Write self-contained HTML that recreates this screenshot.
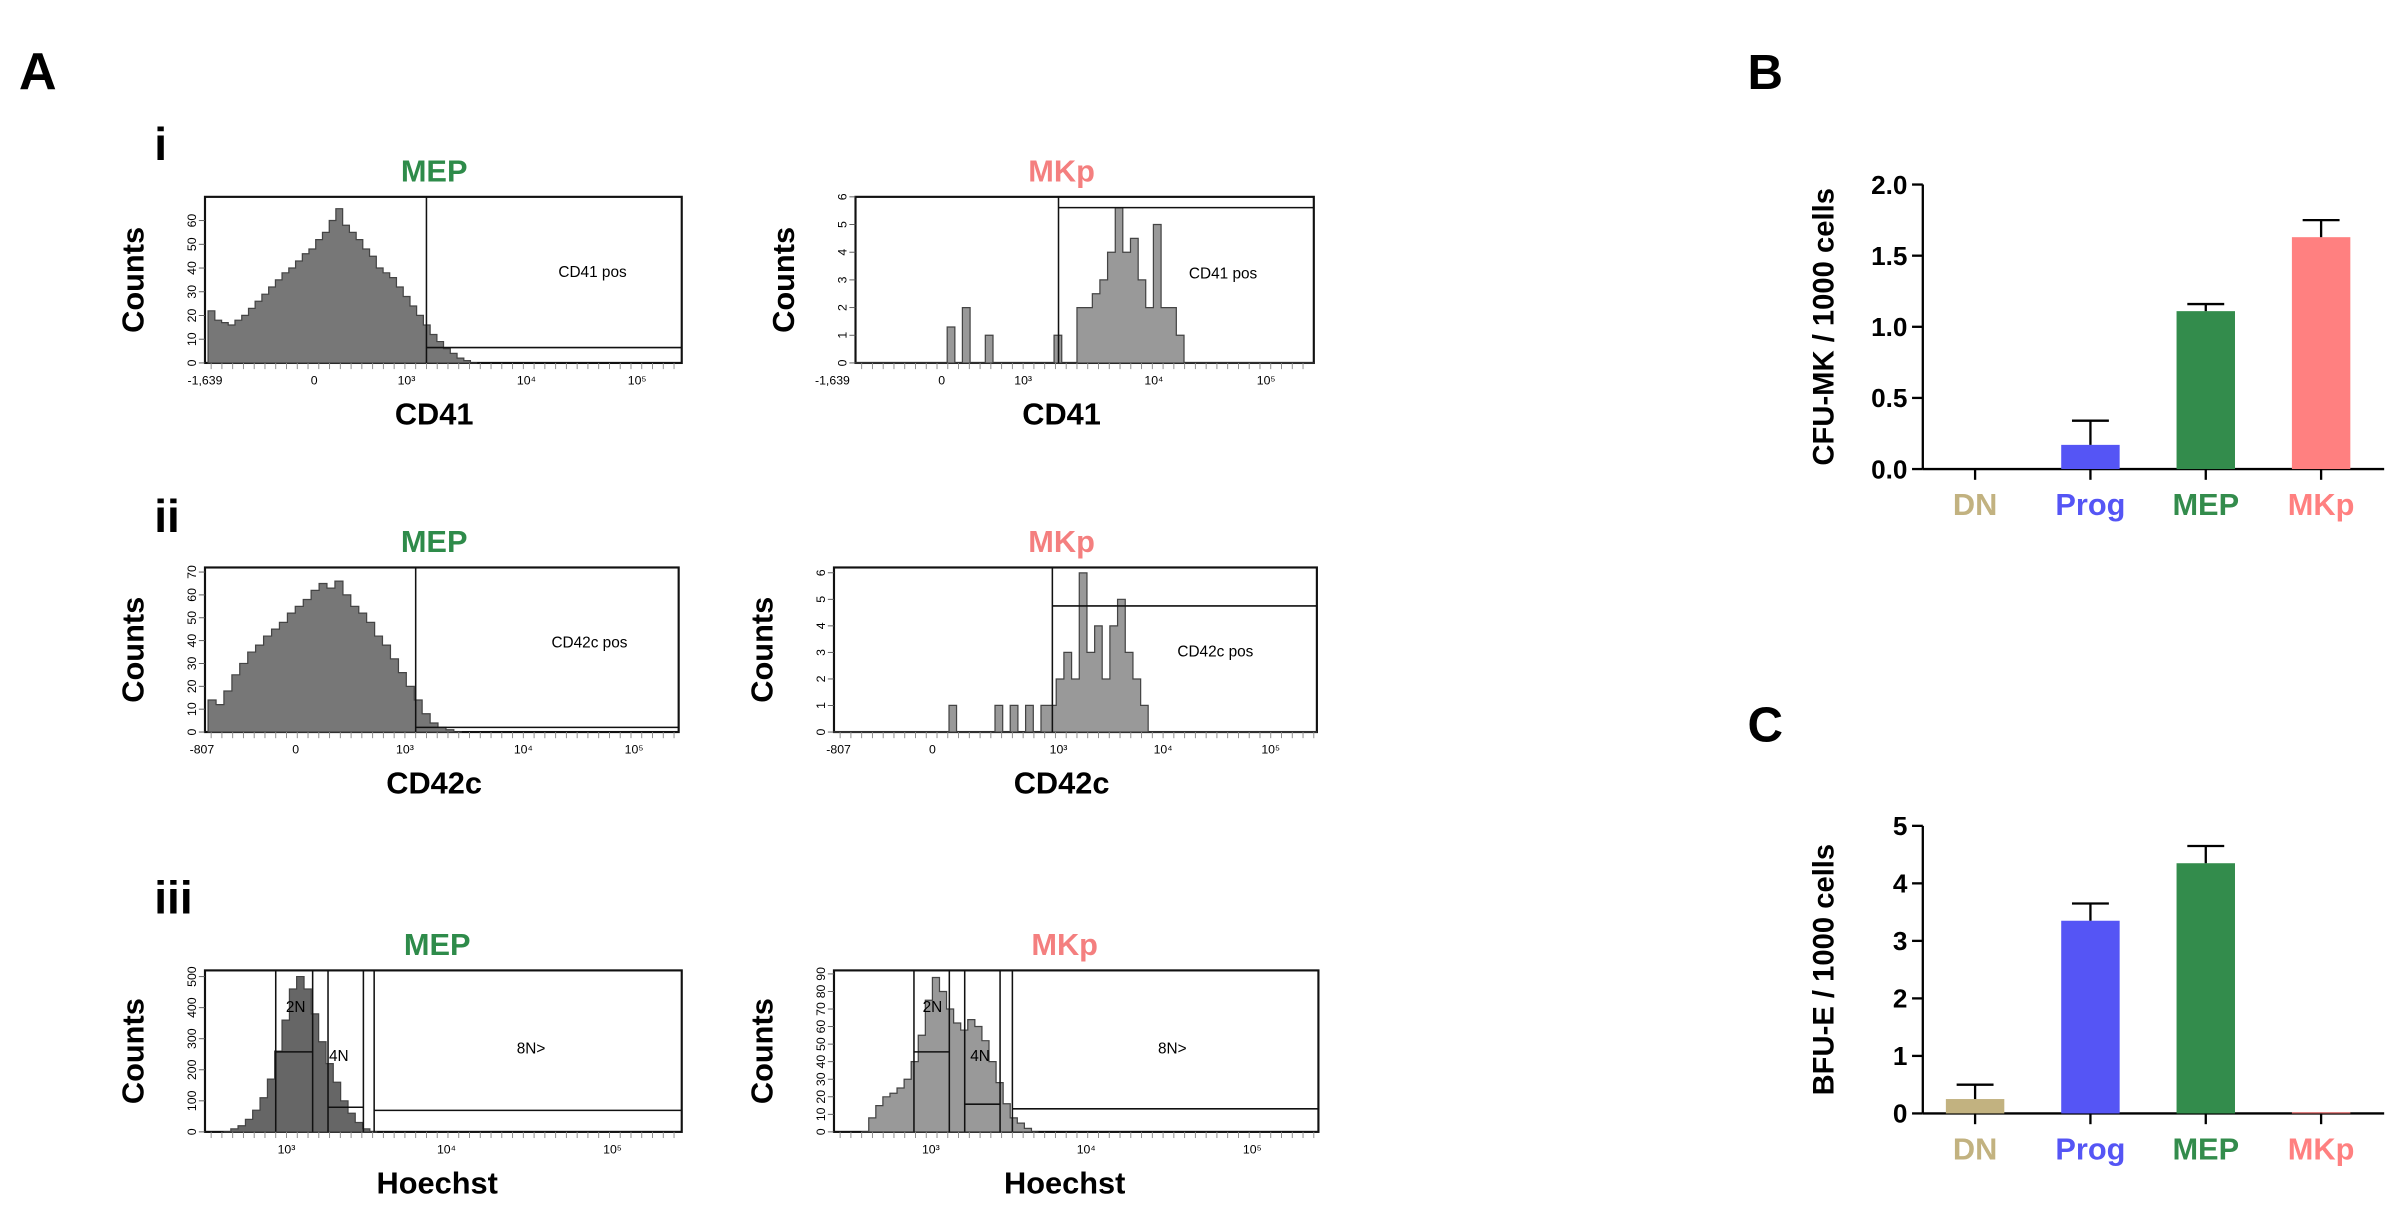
<!DOCTYPE html>
<html><head><meta charset="utf-8"><style>
html,body{margin:0;padding:0;background:#fff;}
svg{display:block;font-family:"Liberation Sans",sans-serif;}
.b{font-weight:bold;}
</style></head><body>
<svg id="fig" width="2400" height="1218" viewBox="0 0 1560 792" xmlns="http://www.w3.org/2000/svg">
<text x="12" y="58" font-size="34" class="b">A</text>
<text x="1136" y="58" font-size="32" class="b">B</text>
<text x="1136" y="482" font-size="32" class="b">C</text>
<text x="100" y="104" font-size="30" class="b">i</text>
<text x="100" y="346" font-size="30" class="b">ii</text>
<text x="100" y="594" font-size="30" class="b">iii</text>
<g id="flow"></g>
<g id="bars"></g>
</svg>
<script>
// ---- Flow histogram data (counts per bin) ----
const mepCD41 = [22,18,17,16,18,20,23,26,29,32,35,38,40,43,46,48,52,55,60,65,58,55,52,48,45,40,38,36,32,28,24,20,16,12,9,6,4,2,1,0];
const mkpCD41 = [0,0,0,0,0,0,0,0,0,0,0,0,1.3,0,2,0,0,1,0,0,0,0,0,0,0,0,1,0,0,2,2,2.5,3,4,5.6,4,4.5,3,2,5,2,2,1,0,0,0,0,0,0,0,0,0,0,0,0,0,0,0,0,0];
const mepCD42c = [14,12,18,25,30,35,38,42,45,48,52,55,58,62,65,63,66,60,55,52,48,42,38,32,26,20,14,8,4,2,1,0];
const mkpCD42c = [0,0,0,0,0,0,0,0,0,0,0,0,0,0,0,1,0,0,0,0,0,1,0,1,0,1,0,1,1,2,3,2,6,3,4,2,4,5,3,2,1,0,0,0,0,0,0,0,0,0,0,0,0,0,0,0,0,0,0,0,0,0,0];
const mepHoe = [0,10,20,40,70,110,170,260,360,460,500,460,380,290,220,160,100,60,30,10,0];
const mkpHoe = [0,8,15,20,22,25,30,40,55,75,88,80,70,62,58,64,60,52,40,28,16,8,5,2,0];
const gn = "#2e8b4a", pk = "#f47f7f";
const NS = "http://www.w3.org/2000/svg";
const flow = document.getElementById('flow');
function mk(tag, attrs, parent, text){
  const e = document.createElementNS(NS, tag);
  for (const k in attrs) e.setAttribute(k, attrs[k]);
  if (text !== undefined) e.textContent = text;
  (parent || flow).appendChild(e);
  return e;
}
function histo(p){
  const g = mk('g', {});
  
  
  mk('rect', {x:p.x0, y:p.y0, width:p.x1-p.x0, height:p.y1-p.y0, fill:'#fff', stroke:'#111', 'stroke-width':1.4}, g);
  const n = p.data.length, bw = (p.hx1 - p.hx0)/n;
  const yv = v => p.y1 - v/p.ymax*(p.y1-p.y0);
  let d = 'M'+p.hx0+','+p.y1;
  p.data.forEach((v,i)=>{ const x=p.hx0+i*bw; d+=' L'+x.toFixed(1)+','+yv(v).toFixed(1)+' L'+(x+bw).toFixed(1)+','+yv(v).toFixed(1); });
  d += ' L'+p.hx1+','+p.y1+' Z';
  const h = mk('path', {d:d, fill:p.fill, stroke:'#444', 'stroke-width':0.8}, g);
  
  
  (p.lines||[]).forEach(l=>mk('line', {x1:l[0], y1:l[1], x2:l[2], y2:l[3], stroke:'#111', 'stroke-width':1}, g));
  (p.labels||[]).forEach(l=>mk('text', {x:l[0], y:l[1], 'font-size':10, 'text-anchor':'middle'}, g, l[2]));
  for (let x=p.x0+4; x<p.x1; x+=7) mk('line', {x1:x, y1:p.y1, x2:x, y2:p.y1+4, stroke:'#888', 'stroke-width':0.6}, g);
  (p.xt||[]).forEach(t=>mk('text', {x:t[0], y:p.y1+14, 'font-size':8, 'text-anchor':'middle'}, g, t[1]));
  (p.yt||[]).forEach(v=>{ const y=yv(v);
    mk('line', {x1:p.x0-4, y1:y, x2:p.x0, y2:y, stroke:'#555', 'stroke-width':0.6}, g);
    mk('text', {x:0, y:0, 'font-size':8, 'text-anchor':'middle', transform:'translate('+(p.x0-6)+','+y+') rotate(-90)'}, g, v);
  });
  const t = mk('text', {x:p.tx, y:p.y0-10, 'font-size':20, 'text-anchor':'middle', fill:p.tc, 'font-weight':'bold'}, g, p.title);
  
  
  const xl = mk('text', {x:p.tx, y:p.y1+40, 'font-size':20, 'text-anchor':'middle', 'font-weight':'bold'}, g, p.xl);
  
  
  const yl = mk('text', {x:0, y:0, 'font-size':20, 'text-anchor':'middle', 'font-weight':'bold', transform:'translate('+(p.x0-40)+','+((p.y0+p.y1)/2)+') rotate(-90)'}, g, 'Counts');
  
  
}
histo({name:'mep-cd41', x0:133,x1:443,y0:128,y1:236, tx:282, hx0:135,hx1:310, data:mepCD41, ymax:70, fill:'#777', tc:gn, title:'MEP', xl:'CD41',
  lines:[[277,128,277,236],[277,226,443,226]], labels:[[385,180,'CD41 pos']], yt:[0,10,20,30,40,50,60], xt:[[133,'-1,639'],[204,'0'],[264,'10³'],[342,'10⁴'],[414,'10⁵']]});
histo({name:'mkp-cd41', x0:556,x1:854,y0:128,y1:236, tx:690, hx0:556,hx1:854, data:mkpCD41, ymax:6, fill:'#999', tc:pk, title:'MKp', xl:'CD41',
  lines:[[688,128,688,236],[688,135,854,135]], labels:[[795,181,'CD41 pos']], yt:[0,1,2,3,4,5,6], xt:[[541,'-1,639'],[612,'0'],[665,'10³'],[750,'10⁴'],[823,'10⁵']]});
histo({name:'mep-cd42c', x0:133,x1:441,y0:369,y1:476, tx:282, hx0:135,hx1:300, data:mepCD42c, ymax:72, fill:'#777', tc:gn, title:'MEP', xl:'CD42c',
  lines:[[270,369,270,476],[270,473,441,473]], labels:[[383,421,'CD42c pos']], yt:[0,10,20,30,40,50,60,70], xt:[[131,'-807'],[192,'0'],[263,'10³'],[340,'10⁴'],[412,'10⁵']]});
histo({name:'mkp-cd42c', x0:542,x1:856,y0:369,y1:476, tx:690, hx0:542,hx1:856, data:mkpCD42c, ymax:6.2, fill:'#999', tc:pk, title:'MKp', xl:'CD42c',
  lines:[[684,369,684,476],[684,394,856,394]], labels:[[790,427,'CD42c pos']], yt:[0,1,2,3,4,5,6], xt:[[545,'-807'],[606,'0'],[688,'10³'],[756,'10⁴'],[826,'10⁵']]});
histo({name:'mep-hoechst', x0:133,x1:443,y0:631,y1:736, tx:284, hx0:145,hx1:245, data:mepHoe, ymax:520, fill:'#666', tc:gn, title:'MEP', xl:'Hoechst',
  lines:[[179,631,179,736],[203,631,203,736],[213,631,213,736],[236,631,236,736],[243,631,243,736],[179,684,203,684],[213,720,236,720],[243,722,443,722]],
  labels:[[192,658,'2N'],[220,690,'4N'],[345,685,'8N>']], yt:[0,100,200,300,400,500], xt:[[186,'10³'],[290,'10⁴'],[398,'10⁵']]});
histo({name:'mkp-hoechst', x0:542,x1:857,y0:631,y1:736, tx:692, hx0:560,hx1:675, data:mkpHoe, ymax:92, fill:'#999', tc:pk, title:'MKp', xl:'Hoechst',
  lines:[[594,631,594,736],[617,631,617,736],[627,631,627,736],[650,631,650,736],[658,631,658,736],[594,684,617,684],[627,718,650,718],[658,721,857,721]],
  labels:[[606,658,'2N'],[637,690,'4N'],[762,685,'8N>']], yt:[0,10,20,30,40,50,60,70,80,90], xt:[[605,'10³'],[706,'10⁴'],[814,'10⁵']]});

// ---- Bar chart data ----
const cats = ['DN','Prog','MEP','MKp'];
const catColors = ['#c2b280','#5555f5','#338c4c','#ff8080'];
const cfuVals = [0, 0.17, 1.11, 1.63];
const cfuErr = [0, 0.17, 0.05, 0.12];
const cfuTicks = ['0.0','0.5','1.0','1.5','2.0'];
const bfuVals = [0.25, 3.35, 4.35, 0.02];
const bfuErr = [0.25, 0.3, 0.3, 0];
const bfuTicks = ['0','1','2','3','4','5'];
const bars = document.getElementById('bars');
function barChart(o){
  const g = mk('g', {}, bars);
  
  
  const ax0 = 1250, ax1 = 1550;
  const ys = v => o.yb - v/o.vmax*(o.yb-o.yt);
  const xs = i => 1284 + i*75;
  mk('line', {x1:ax0, y1:o.yt, x2:ax0, y2:o.yb, stroke:'#000', 'stroke-width':1.5}, g);
  mk('line', {x1:ax0, y1:o.yb, x2:ax1, y2:o.yb, stroke:'#000', 'stroke-width':1.5}, g);
  o.ticks.forEach((t,i)=>{ const v = i*o.vmax/(o.ticks.length-1), y = ys(v);
    mk('line', {x1:ax0-7, y1:y, x2:ax0, y2:y, stroke:'#000', 'stroke-width':1.5}, g);
    const tl = mk('text', {x:ax0-10, y:y+6, 'font-size':17, 'text-anchor':'end', 'font-weight':'bold'}, g, t);
    
    
  });
  cats.forEach((c,i)=>{ const cx = xs(i), w = 38;
    const top = ys(o.vals[i]);
    const b = mk('rect', {x:cx-w/2, y:top, width:w, height:o.yb-top, fill:catColors[i]}, g);
    
    
    if (o.err[i] > 0){ const ey = ys(o.vals[i]+o.err[i]);
      mk('line', {x1:cx, y1:top, x2:cx, y2:ey, stroke:'#000', 'stroke-width':1.5}, g);
      mk('line', {x1:cx-12, y1:ey, x2:cx+12, y2:ey, stroke:'#000', 'stroke-width':1.5}, g);
    }
    mk('line', {x1:cx, y1:o.yb, x2:cx, y2:o.yb+7, stroke:'#000', 'stroke-width':1.5}, g);
    const l = mk('text', {x:cx, y:o.yb+30, 'font-size':20, 'text-anchor':'middle', 'font-weight':'bold', fill:catColors[i]}, g, c);
    
    
  });
  const t = mk('text', {x:0, y:0, 'font-size':19, 'text-anchor':'middle', 'font-weight':'bold', transform:'translate(1192,'+((o.yt+o.yb)/2)+') rotate(-90)'}, g, o.title);
  
  
}
barChart({name:'cfu-mk-chart', yt:120, yb:305, vmax:2, vals:cfuVals, err:cfuErr, ticks:cfuTicks, title:'CFU-MK / 1000 cells'});
barChart({name:'bfu-e-chart', yt:537, yb:724, vmax:5, vals:bfuVals, err:bfuErr, ticks:bfuTicks, title:'BFU-E / 1000 cells'});
</script>
</body></html>
